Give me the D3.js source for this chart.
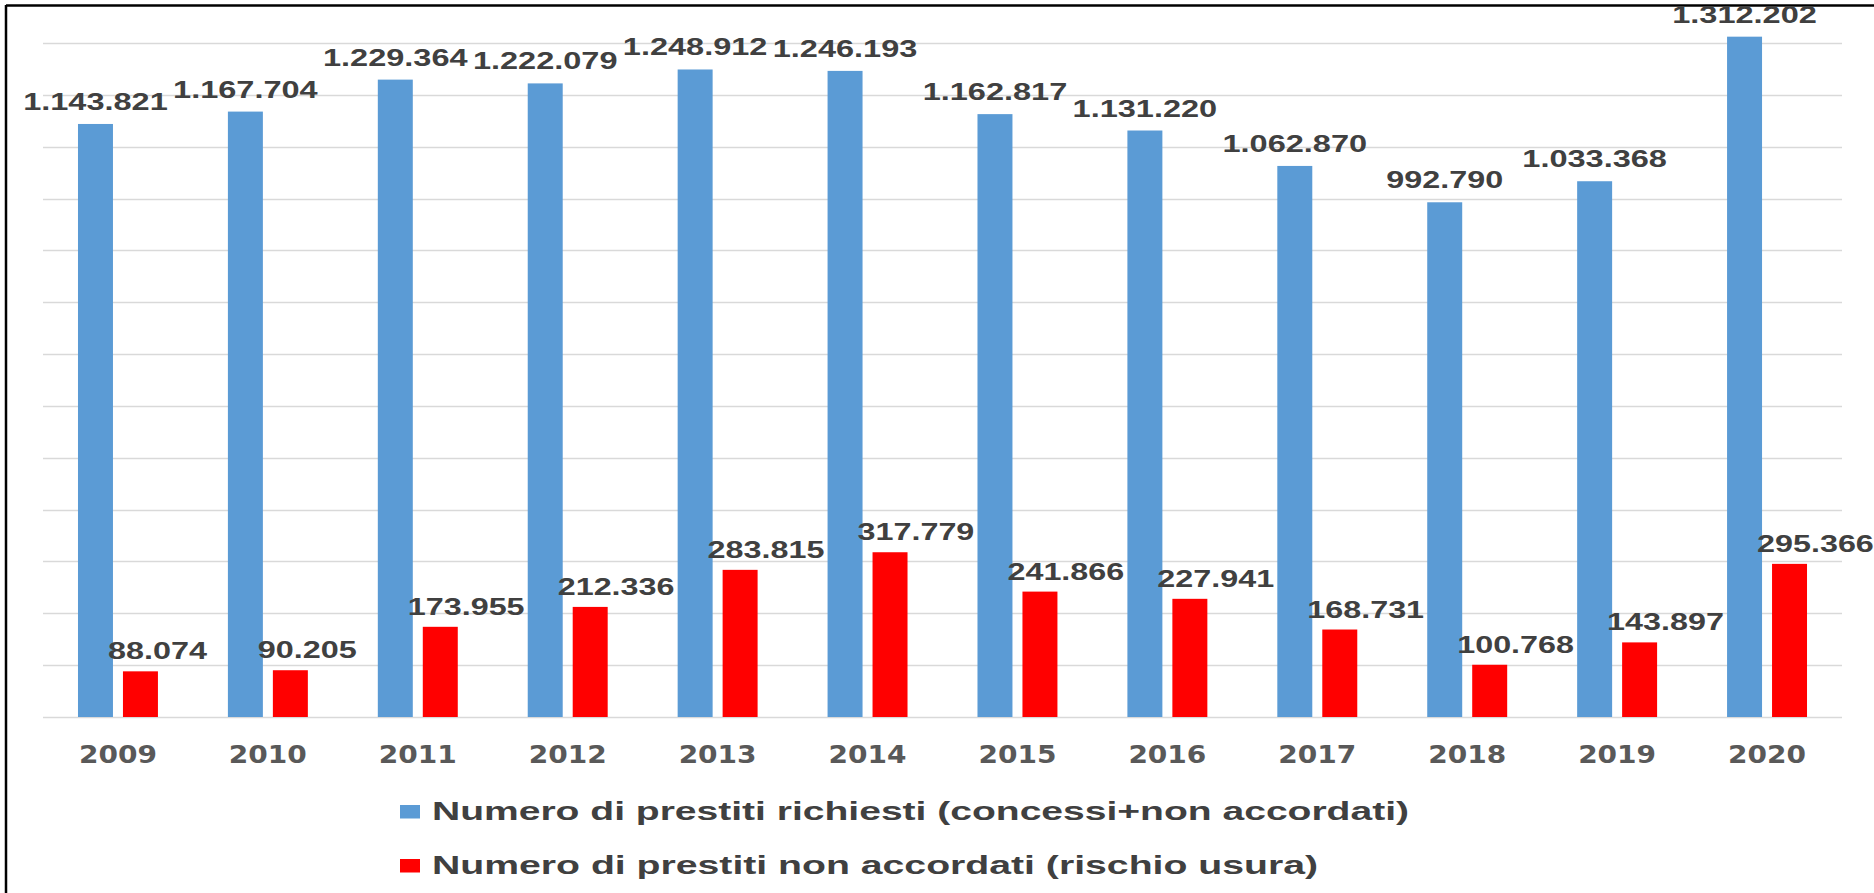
<!DOCTYPE html>
<html>
<head>
<meta charset="utf-8">
<script src="https://cdn.jsdelivr.net/npm/d3@7"></script>
<style>
  html, body { margin: 0; padding: 0; background: #fff; }
  svg { display: block; }
</style>
</head>
<body>
<svg id="chart" width="1874" height="893"></svg>
<script>
// ---- data ----
const years = ["2009","2010","2011","2012","2013","2014","2015","2016","2017","2018","2019","2020"];
const richiesti = [1143821,1167704,1229364,1222079,1248912,1246193,1162817,1131220,1062870,992790,1033368,1312202];
const nonAccordati = [88074,90205,173955,212336,283815,317779,241866,227941,168731,100768,143897,295366];
const seriesNames = ["Numero di prestiti richiesti (concessi+non accordati)", "Numero di prestiti non accordati (rischio usura)"];
const seriesKeys = ["richiesti", "nonAccordati"];
const seriesColors = ["#5B9BD5", "#FF0000"];
const yMax = 1300000;
const yTickStep = 100000;

// ---- layout ----
const W = 1874, H = 893;
const plot = { left: 43, right: 1842, top: 43, bottom: 717 };
const svg = d3.select("#chart");
const it = d3.formatLocale({ decimal: ",", thousands: ".", grouping: [3], currency: ["€", ""] });
const fmt = it.format(",d");

const rows = years.map((y, i) => ({ year: y, richiesti: richiesti[i], nonAccordati: nonAccordati[i] }));

const x0 = d3.scaleBand().domain(years).range([plot.left, plot.right]).paddingInner(0).paddingOuter(0);
const bw = x0.bandwidth();
const x1 = d3.scaleBand().domain(seriesKeys).range([bw * 35 / 150, bw * 115 / 150]).paddingInner(10 / 45).paddingOuter(0);
const y = d3.scaleLinear().domain([0, yMax]).range([plot.bottom, plot.top]);

// border (top + left as in the reference crop)
svg.append("line").attr("x1", 6).attr("x2", W).attr("y1", 5.5).attr("y2", 5.5).attr("stroke", "#000").attr("stroke-width", 2.5);
svg.append("line").attr("x1", 6).attr("x2", 6).attr("y1", 5).attr("y2", H).attr("stroke", "#000").attr("stroke-width", 2.5);

// gridlines
const ticks = d3.range(0, yMax + 1, yTickStep);
svg.append("g").selectAll("line").data(ticks).join("line")
  .attr("x1", plot.left).attr("x2", plot.right)
  .attr("y1", d => Math.round(y(d)) + 0.5).attr("y2", d => Math.round(y(d)) + 0.5)
  .attr("stroke", "#d9d9d9").attr("stroke-width", 1.5);

// bars
const groups = svg.append("g").selectAll("g").data(rows).join("g")
  .attr("transform", d => `translate(${x0(d.year)},0)`);
seriesKeys.forEach((k, si) => {
  groups.append("rect")
    .attr("x", x1(k))
    .attr("width", x1.bandwidth())
    .attr("y", d => y(d[k]))
    .attr("height", d => y(0) - y(d[k]))
    .attr("fill", seriesColors[si]);
});

// data labels
function labelLen(s) {
  const digits = s.replace(/\./g, "").length;
  const dots = s.length - digits;
  return digits * 17.8 + dots * 10;
}
const labelFont = "'Liberation Sans', Arial, sans-serif";
groups.append("text")
  .attr("x", x1("richiesti") + x1.bandwidth() / 2)
  .attr("y", d => y(d.richiesti) - 14)
  .attr("text-anchor", "middle")
  .attr("font-family", labelFont).attr("font-weight", "bold").attr("font-size", 24)
  .attr("fill", "#404040")
  .attr("lengthAdjust", "spacingAndGlyphs")
  .attr("textLength", d => labelLen(fmt(d.richiesti)))
  .text(d => fmt(d.richiesti));
groups.append("text")
  .attr("x", x1("nonAccordati") - 15)
  .attr("y", d => y(d.nonAccordati) - 12)
  .attr("text-anchor", "start")
  .attr("font-family", labelFont).attr("font-weight", "bold").attr("font-size", 24)
  .attr("fill", "#404040")
  .attr("lengthAdjust", "spacingAndGlyphs")
  .attr("textLength", d => labelLen(fmt(d.nonAccordati)))
  .text(d => fmt(d.nonAccordati));

// x axis labels
const xAxis = d3.axisBottom(x0).tickSize(0).tickPadding(0);
const gx = svg.append("g").attr("transform", `translate(0,${plot.bottom})`).call(xAxis);
gx.select(".domain").remove();
gx.selectAll("text")
  .attr("y", 46).attr("dy", null)
  .attr("font-family", "'DejaVu Sans', Verdana, sans-serif").attr("font-weight", "bold").attr("font-size", 24.5)
  .attr("fill", "#595959")
  .attr("lengthAdjust", "spacingAndGlyphs")
  .attr("textLength", 78);

// legend
const legendLens = [977, 886];
const legendY = [820, 874];
const lg = svg.append("g").selectAll("g").data(seriesNames).join("g");
lg.append("rect")
  .attr("x", 400).attr("y", (d, i) => legendY[i] - 15)
  .attr("width", 20).attr("height", 13.5)
  .attr("fill", (d, i) => seriesColors[i]);
lg.append("text")
  .attr("x", 432).attr("y", (d, i) => legendY[i])
  .attr("font-family", labelFont).attr("font-weight", "bold").attr("font-size", 25)
  .attr("fill", "#404040")
  .attr("lengthAdjust", "spacingAndGlyphs")
  .attr("textLength", (d, i) => legendLens[i])
  .text(d => d);
</script>
</body>
</html>
